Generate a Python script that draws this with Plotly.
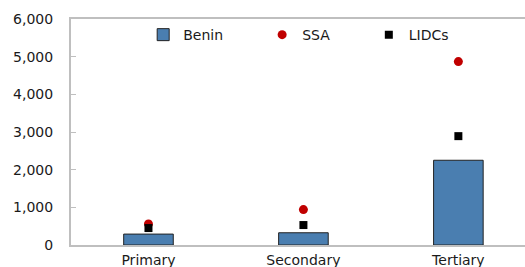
import plotly.graph_objects as go

categories = ["Primary", "Secondary", "Tertiary"]
benin = [290, 325, 2250]
ssa = [560, 940, 4870]
lidcs = [450, 530, 2890]
y_ticks = [0, 1000, 2000, 3000, 4000, 5000, 6000]

FONT = "DejaVu Sans"
GRAY = "#bfbfbf"

fig = go.Figure()
fig.add_trace(go.Bar(
    x=categories, y=benin, name="Benin", width=0.32,
    marker=dict(color="#4a7eb0", line=dict(color="#222222", width=1)),
    legend="legend",
))
fig.add_trace(go.Scatter(
    x=categories, y=ssa, name="SSA", mode="markers",
    marker=dict(symbol="circle", size=9, color="#c00000"),
    legend="legend2",
))
fig.add_trace(go.Scatter(
    x=categories, y=lidcs, name="LIDCs", mode="markers",
    marker=dict(symbol="square", size=8, color="#000000"),
    legend="legend3",
))

leg_common = dict(orientation="h", yanchor="middle", y=0.929, xanchor="left",
                  bgcolor="rgba(0,0,0,0)", font=dict(family=FONT, size=14, color="#1a1a1a"))
fig.update_layout(
    width=525, height=267,
    margin=dict(l=71, r=0, t=19, b=22, autoexpand=False),
    plot_bgcolor="white", paper_bgcolor="white",
    font=dict(family=FONT, size=14, color="#1a1a1a"),
    showlegend=True,
    legend=dict(x=0.159, **leg_common),
    legend2=dict(x=0.421, **leg_common),
    legend3=dict(x=0.656, **leg_common),
    xaxis=dict(
        type="category", range=[-0.5, 2.43], automargin=False,
        showline=True, linecolor=GRAY, linewidth=2, mirror=True,
        ticks="", showgrid=False, ticklabelstandoff=1,
    ),
    yaxis=dict(
        range=[0, 6000], tickvals=y_ticks, tickformat=",", automargin=False,
        showline=True, linecolor=GRAY, linewidth=2,
        ticks="inside", ticklen=5, tickcolor=GRAY, tickwidth=1,
        ticklabelstandoff=13,
        showgrid=False, zeroline=False,
    ),
)

fig.write_html("out.html", config={"displayModeBar": False},
               post_script="document.body.style.margin='0';document.body.style.overflow='hidden';")
